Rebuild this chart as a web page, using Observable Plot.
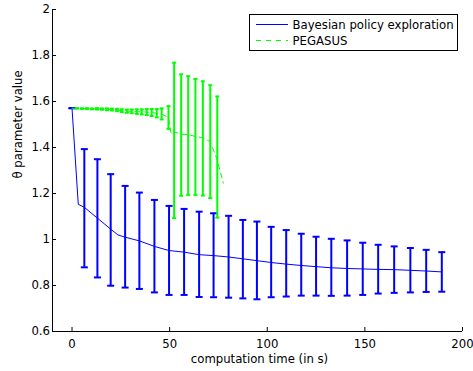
<!DOCTYPE html>
<html><head><meta charset="utf-8">
<script src="https://cdn.jsdelivr.net/npm/d3@7"></script>
<script src="https://cdn.jsdelivr.net/npm/@observablehq/plot@0.6"></script>
<style>
html,body{margin:0;padding:0;background:#fff;}
#wrap{position:relative;width:473px;height:371px;font-family:"DejaVu Sans",sans-serif;}
#legend{position:absolute;left:249px;top:14px;width:207px;height:35px;border:1px solid #000;background:#fff;}
#legend svg{display:block;}
</style></head><body><div id="wrap"></div>
<script>
const xDomain = [-10, 200];
const yDomain = [0.6, 2];
const xTicks = [0, 50, 100, 150, 200];
const yTicks = [0.6, 0.8, 1, 1.2, 1.4, 1.6, 1.8, 2];
const seriesNames = ["Bayesian policy exploration", "PEGASUS"];
const seriesColors = ["#0000ff", "#00ff00"];
const xLabel = "computation time (in s)";
const yLabel = "θ parameter value";

// Bayesian policy exploration: error bars
const bpeBarX = [0, 6.3, 13, 19.8, 27.2, 34.5, 42.2, 49.7, 57.4, 65.1, 72.5, 80.2, 87.5, 94.7, 102, 109.7, 117.4, 125, 132.8, 140.9, 148.9, 156.8, 165, 173.3, 181.4, 189.4];
const bpeBarLow = [1.571, 0.879, 0.835, 0.799, 0.791, 0.785, 0.770, 0.759, 0.759, 0.750, 0.749, 0.747, 0.744, 0.740, 0.749, 0.752, 0.756, 0.756, 0.755, 0.756, 0.759, 0.765, 0.768, 0.770, 0.772, 0.773];
const bpeBarHigh = [1.571, 1.393, 1.349, 1.284, 1.233, 1.204, 1.172, 1.146, 1.133, 1.121, 1.114, 1.103, 1.085, 1.078, 1.055, 1.041, 1.025, 1.012, 1.003, 0.996, 0.986, 0.977, 0.970, 0.963, 0.955, 0.945];
// Bayesian policy exploration: mean curve
const bpeLineX = [0, 3.2, 6.3, 13, 19.8, 23.5, 27.2, 34.5, 42.2, 49.7, 57.4, 65.1, 72.5, 80.2, 87.5, 94.7, 102, 109.7, 117.4, 125, 132.8, 140.9, 148.9, 156.8, 165, 173.3, 181.4, 189.4];
const bpeLineY = [1.571, 1.153, 1.140, 1.093, 1.045, 1.020, 1.010, 0.994, 0.970, 0.952, 0.945, 0.934, 0.930, 0.924, 0.916, 0.908, 0.900, 0.893, 0.887, 0.882, 0.877, 0.874, 0.872, 0.870, 0.869, 0.866, 0.863, 0.859];

// PEGASUS: error bars
const pegBarX = [2.6, 5.1, 7.7, 10.2, 12.8, 15.3, 17.9, 20.4, 23.0, 25.5, 28.1, 30.6, 33.2, 35.7, 38.3, 40.8, 43.4, 45.9, 49.4, 52.3, 55.9, 59.5, 63.2, 67.0, 70.8, 74.4];
const pegBarLow = [1.569, 1.5675, 1.567, 1.566, 1.565, 1.564, 1.562, 1.561, 1.558, 1.554, 1.551, 1.549, 1.546, 1.544, 1.541, 1.537, 1.531, 1.522, 1.481, 1.093, 1.190, 1.194, 1.194, 1.191, 1.180, 1.095];
const pegBarHigh = [1.571, 1.5705, 1.571, 1.570, 1.571, 1.570, 1.570, 1.569, 1.568, 1.566, 1.565, 1.565, 1.566, 1.566, 1.567, 1.567, 1.567, 1.570, 1.580, 1.769, 1.718, 1.710, 1.698, 1.688, 1.671, 1.622];
// PEGASUS: mean curve
const pegLineX = [0, 2.6, 5.1, 7.7, 10.2, 12.8, 15.3, 17.9, 20.4, 23.0, 25.5, 28.1, 30.6, 33.2, 35.7, 38.3, 40.8, 43.4, 45.9, 49.4, 50.8, 52.3, 55.9, 59.5, 63.2, 67.0, 70.8, 74.4, 77.5];
const pegLineY = [1.571, 1.570, 1.569, 1.569, 1.568, 1.568, 1.567, 1.566, 1.565, 1.563, 1.560, 1.558, 1.557, 1.556, 1.555, 1.554, 1.552, 1.549, 1.546, 1.530, 1.458, 1.468, 1.458, 1.456, 1.448, 1.442, 1.425, 1.345, 1.245];

const bpeBars = bpeBarX.map((x, i) => ({x, lo: bpeBarLow[i], hi: bpeBarHigh[i]}));
const bpeLine = bpeLineX.map((x, i) => ({x, y: bpeLineY[i]}));
const pegBars = pegBarX.map((x, i) => ({x, lo: pegBarLow[i], hi: pegBarHigh[i]}));
const pegLine = pegLineX.map((x, i) => ({x, y: pegLineY[i]}));

const cap = (hw) => ({draw(ctx) { ctx.moveTo(-hw, 0); ctx.lineTo(hw, 0); }});
const blueCap = cap(3.5), greenCap = cap(2);

const fs = 11.7;
const chart = Plot.plot({
  width: 473, height: 371,
  marginLeft: 52, marginRight: 11, marginTop: 9, marginBottom: 40,
  style: {fontFamily: "'DejaVu Sans', sans-serif", fontSize: fs + "px", background: "#fff", color: "#000"},
  x: {domain: xDomain},
  y: {domain: yDomain},
  marks: [
    Plot.ruleX([xDomain[0]], {stroke: "#000"}),
    Plot.ruleY([yDomain[0]], {stroke: "#000"}),
    Plot.axisX({ticks: xTicks, tickFormat: d => String(d), tickSize: -4, tickPadding: 12, label: null, fontSize: fs}),
    Plot.axisY({ticks: yTicks, tickFormat: d => String(d), tickSize: -4, tickPadding: 6.5, label: null, fontSize: fs}),
    Plot.text([xLabel], {text: d => d, frameAnchor: "bottom", dy: 31.5, dx: 2, fontSize: fs}),
    Plot.text([yLabel], {text: d => d, frameAnchor: "left", rotate: -90, dx: -34.5, dy: 8, fontSize: fs}),
    Plot.ruleX(bpeBars, {x: "x", y1: "lo", y2: "hi", stroke: seriesColors[0], strokeWidth: 2}),
    Plot.dot(bpeBars, {x: "x", y: "lo", symbol: blueCap, fill: "none", stroke: seriesColors[0], strokeWidth: 2}),
    Plot.dot(bpeBars, {x: "x", y: "hi", symbol: blueCap, fill: "none", stroke: seriesColors[0], strokeWidth: 2}),
    Plot.line(bpeLine, {x: "x", y: "y", stroke: seriesColors[0], strokeWidth: 1}),
    Plot.ruleX(pegBars, {x: "x", y1: "lo", y2: "hi", stroke: seriesColors[1], strokeWidth: 2}),
    Plot.dot(pegBars, {x: "x", y: "lo", symbol: greenCap, fill: "none", stroke: seriesColors[1], strokeWidth: 2}),
    Plot.dot(pegBars, {x: "x", y: "hi", symbol: greenCap, fill: "none", stroke: seriesColors[1], strokeWidth: 2}),
    Plot.line(pegLine, {x: "x", y: "y", stroke: seriesColors[1], strokeWidth: 1, strokeDasharray: "5,4"})
  ]
});
const wrap = document.getElementById("wrap");
wrap.appendChild(chart);

// legend
const legend = document.createElement("div");
legend.id = "legend";
const ns = "http://www.w3.org/2000/svg";
const lsvg = document.createElementNS(ns, "svg");
lsvg.setAttribute("width", 207); lsvg.setAttribute("height", 35);
seriesNames.forEach((name, i) => {
  const yy = 9.5 + i * 16;
  const ln = document.createElementNS(ns, "line");
  ln.setAttribute("x1", 6); ln.setAttribute("x2", 38);
  ln.setAttribute("y1", yy); ln.setAttribute("y2", yy);
  ln.setAttribute("stroke", seriesColors[i]);
  if (i === 1) ln.setAttribute("stroke-dasharray", "5,5");
  lsvg.appendChild(ln);
  const tx = document.createElementNS(ns, "text");
  tx.setAttribute("x", 42.5); tx.setAttribute("y", yy);
  tx.setAttribute("dominant-baseline", "central");
  tx.setAttribute("font-size", fs);
  tx.setAttribute("font-family", "'DejaVu Sans', sans-serif");
  tx.textContent = name;
  lsvg.appendChild(tx);
});
legend.appendChild(lsvg);
wrap.appendChild(legend);
</script></body></html>
